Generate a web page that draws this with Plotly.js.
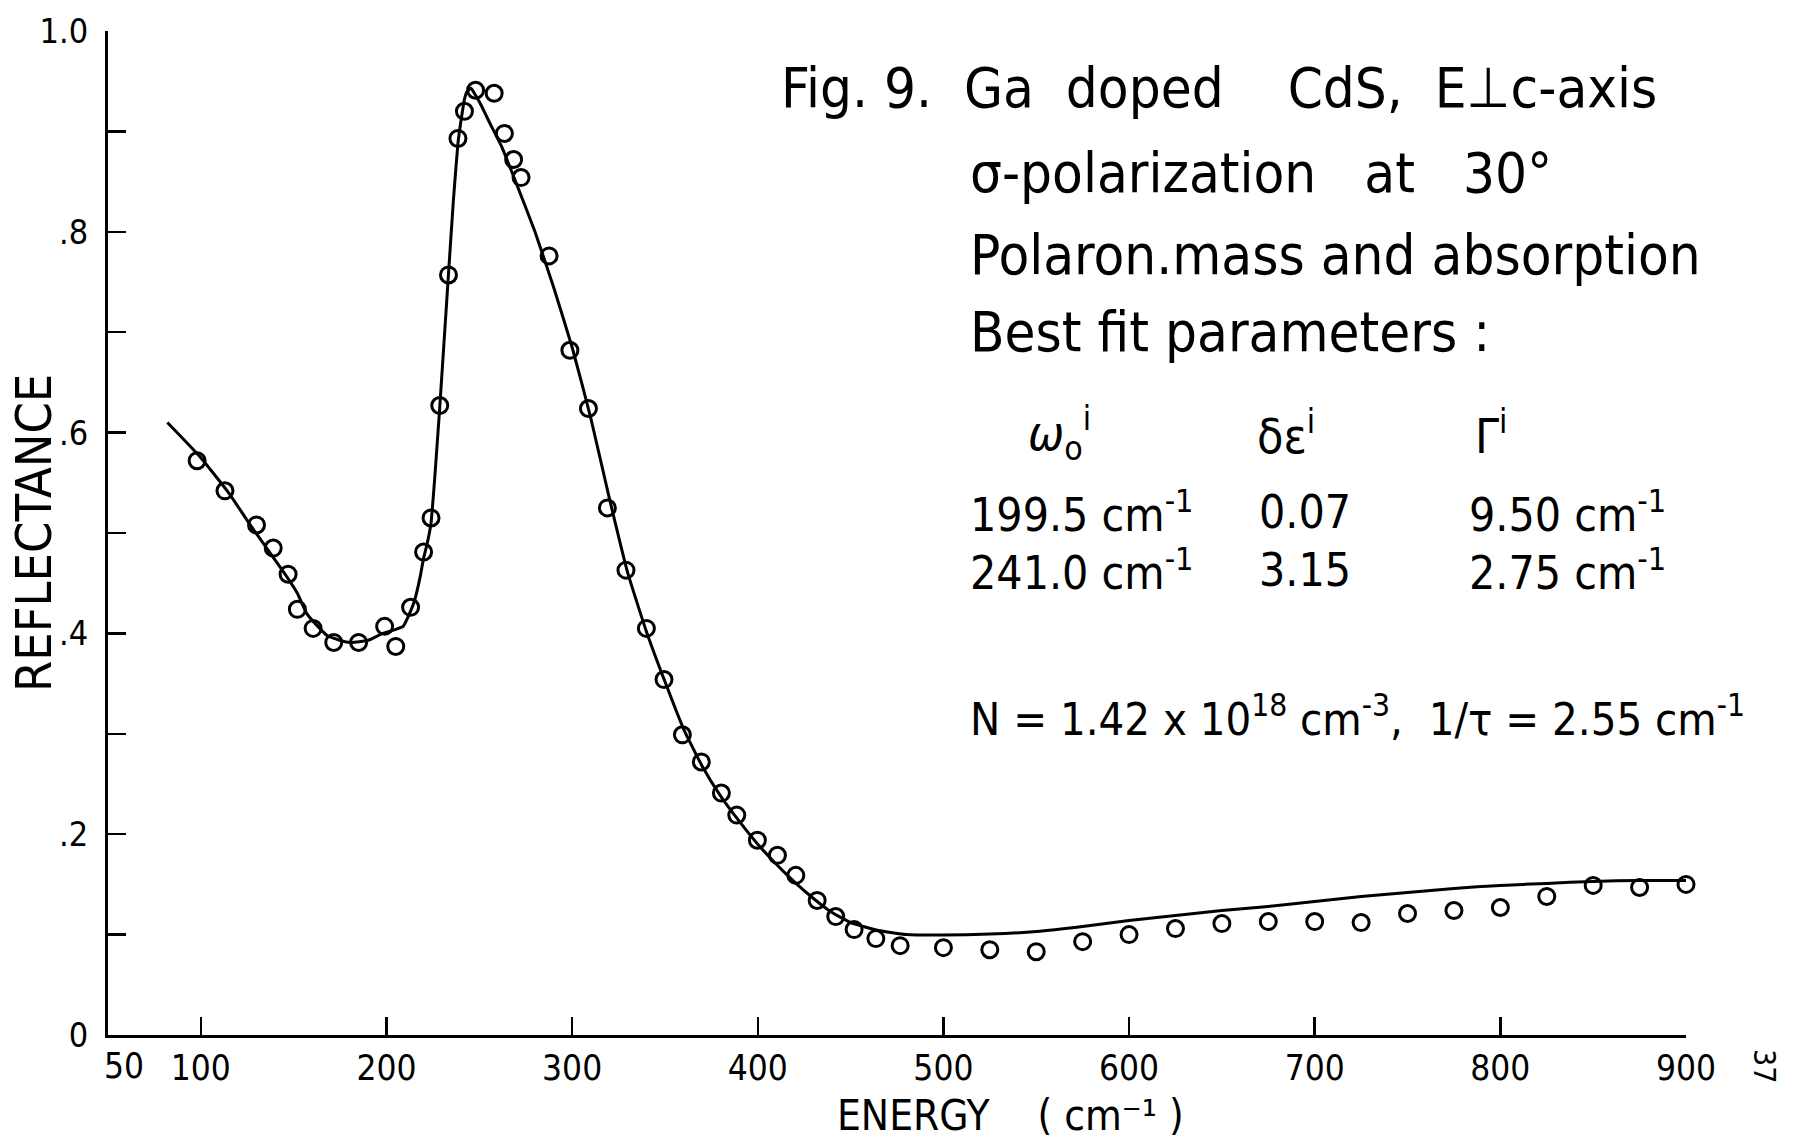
<!DOCTYPE html>
<html>
<head>
<meta charset="utf-8">
<script src="https://cdn.plot.ly/plotly-3.0.1.min.js"></script>
<style>html,body{margin:0;padding:0;background:#fff;}#chart{width:1797px;height:1141px;}</style>
</head>
<body>
<div id="chart"></div>
<script>
// Measured reflectance (open circles)
const dataEnergy = [98, 113, 130, 139, 147, 152, 160.5, 171.6, 185, 199, 205, 213, 220, 224, 228.7, 233.4, 238.5, 242, 248, 258, 263.5, 268.5, 272.5, 287.6, 298.8, 308.8, 319, 329, 340, 349.5, 359.4, 369.6, 380.4, 388.7, 399.8, 410.6, 420.5, 432, 442, 451.9, 463.6, 476.7, 500, 525, 550, 575, 600, 625, 650, 675, 700, 725, 750, 775, 800, 825, 850, 875, 900];
const dataReflectance = [0.572, 0.542, 0.508, 0.485, 0.459, 0.424, 0.405, 0.391, 0.391, 0.407, 0.387, 0.426, 0.481, 0.515, 0.627, 0.757, 0.893, 0.92, 0.941, 0.938, 0.898, 0.872, 0.854, 0.776, 0.682, 0.624, 0.525, 0.463, 0.405, 0.354, 0.299, 0.272, 0.241, 0.219, 0.194, 0.179, 0.159, 0.134, 0.118, 0.105, 0.096, 0.089, 0.087, 0.085, 0.083, 0.093, 0.1, 0.106, 0.111, 0.113, 0.113, 0.112, 0.121, 0.124, 0.127, 0.138, 0.149, 0.147, 0.150];

// Best-fit curve (solid line)
const fitEnergy = [82, 100, 115, 127, 137, 145, 152, 157, 163, 168, 175, 181, 190, 198, 205, 209, 212, 215, 218, 220, 222, 224, 226, 228.5, 231, 233.3, 236, 238.5, 240.5, 242, 243.5, 245.5, 248, 251, 256, 262, 270, 280, 290, 300, 310, 320, 330, 340, 350, 360, 370, 380, 390, 400, 410, 420, 430, 440, 450, 465, 480, 500, 525, 550, 575, 600, 625, 650, 675, 700, 725, 750, 775, 800, 825, 850, 875, 900];
const fitReflectance = [0.61, 0.575, 0.54, 0.507, 0.481, 0.46, 0.44, 0.42, 0.407, 0.398, 0.393, 0.391, 0.393, 0.4, 0.404, 0.407, 0.418, 0.432, 0.455, 0.475, 0.49, 0.51, 0.555, 0.62, 0.69, 0.755, 0.83, 0.888, 0.915, 0.932, 0.94, 0.943, 0.936, 0.926, 0.907, 0.885, 0.848, 0.8, 0.745, 0.685, 0.615, 0.535, 0.46, 0.402, 0.352, 0.305, 0.268, 0.238, 0.213, 0.19, 0.17, 0.152, 0.136, 0.122, 0.112, 0.104, 0.1, 0.0995, 0.1005, 0.103, 0.108, 0.114, 0.119, 0.124, 0.128, 0.133, 0.138, 0.142, 0.146, 0.149, 0.151, 0.153, 0.154, 0.154];

// Tick labels (the axis-origin label "50" is drawn just right of the corner)
const xTickVals = [50, 100, 200, 300, 400, 500, 600, 700, 800, 900];
const xTickText = ['', '100', '200', '300', '400', '500', '600', '700', '800', '900'];
const xOriginLabel = '50';
const yTickVals = [0, 0.1, 0.2, 0.3, 0.4, 0.5, 0.6, 0.7, 0.8, 0.9, 1.0];
const yTickText = ['0', '', '.2', '', '.4', '', '.6', '', '.8', '', '1.0'];

// Annotation text
const titleLines = [
  'Fig. 9.  Ga  doped    CdS,  E\u22a5c-axis',
  '\u03c3-polarization   at   30\u00b0',
  'Polaron.mass and absorption',
  'Best fit parameters :'
];
const paramHeaders = ['<i>\u03c9</i><sub>o</sub><sup>i</sup>', '\u03b4\u03b5<sup>i</sup>', '\u0393<sup>i</sup>'];
const paramRow1 = ['199.5 cm<sup>-1</sup>', '0.07', '9.50 cm<sup>-1</sup>'];
const paramRow2 = ['241.0 cm<sup>-1</sup>', '3.15', '2.75 cm<sup>-1</sup>'];
const carrierLine = 'N = 1.42 x 10<sup>18</sup> cm<sup>-3</sup>,  1/\u03c4 = 2.55 cm<sup>-1</sup>';
const xTitle = 'ENERGY    ( cm\u207b\u00b9 )';
const yTitle = 'REFLECTANCE';

const FONT = '"DejaVu Sans Condensed", "DejaVu Sans", sans-serif';

// plot area in pixels: left 108, right 1686, top 31, bottom 1035
const PL = 108, PR = 1686, PT = 31, PB = 1035;
const px = x => (x - PL) / (PR - PL);
const py = y => (PB - y) / (PB - PT);

const ann = [];
function addText(text, x, y, size, opts) {
  ann.push(Object.assign({
    text: text, xref: 'paper', yref: 'paper', x: px(x), y: py(y),
    xanchor: 'left', yanchor: 'middle', showarrow: false,
    font: {family: FONT, size: size, color: '#000'}
  }, opts || {}));
}
addText(titleLines[0], 779, 88, 56);
addText(titleLines[1], 968, 172, 56);
addText(titleLines[2], 968, 254, 56);
addText(titleLines[3], 968, 332, 56);
const colX = [968, 1257, 1467];
const hdrX = [1026, 1255, 1473];
paramHeaders.forEach((t, i) => addText(t, hdrX[i], 433, 48));
paramRow1.forEach((t, i) => addText(t, colX[i], 512, 46));
paramRow2.forEach((t, i) => addText(t, colX[i], 570, 46));
addText(carrierLine, 968, 716, 45);
addText(xOriginLabel, 124, 1066, 35, {xanchor: 'center'});
addText(xTitle, 1011, 1115, 42, {xanchor: 'center'});
addText(yTitle, 34, 533, 50, {xanchor: 'center', textangle: -90});
addText('37', 1765, 1066, 30, {xanchor: 'center', textangle: 90});

const traces = [
  {
    x: fitEnergy, y: fitReflectance, type: 'scatter', mode: 'lines',
    line: {color: '#000', width: 3, shape: 'spline', smoothing: 0.4},
    hoverinfo: 'skip', showlegend: false, cliponaxis: false
  },
  {
    x: dataEnergy, y: dataReflectance, type: 'scatter', mode: 'markers',
    marker: {symbol: 'circle-open', size: 16, color: '#000', line: {width: 3, color: '#000'}},
    showlegend: false, cliponaxis: false
  }
];

const layout = {
  width: 1797, height: 1141, autosize: false,
  margin: {l: PL, r: 1797 - PR, t: PT, b: 1141 - PB, pad: 0},
  paper_bgcolor: '#fff', plot_bgcolor: '#fff',
  font: {family: FONT, color: '#000'},
  showlegend: false,
  xaxis: {
    range: [50, 900], showgrid: false, zeroline: false,
    showline: true, linecolor: '#000', linewidth: 3,
    ticks: 'inside', ticklen: 18, tickwidth: 2.5, tickcolor: '#000',
    tickvals: xTickVals, ticktext: xTickText,
    tickfont: {family: FONT, size: 35, color: '#000'},
    ticklabelstandoff: 0
  },
  yaxis: {
    range: [0, 1.0], showgrid: false, zeroline: false,
    showline: true, linecolor: '#000', linewidth: 3,
    ticks: 'inside', ticklen: 18, tickwidth: 2.5, tickcolor: '#000',
    tickvals: yTickVals, ticktext: yTickText,
    tickfont: {family: FONT, size: 34, color: '#000'},
    ticklabelstandoff: 10
  },
  annotations: ann
};

Plotly.newPlot('chart', traces, layout, {staticPlot: true, displayModeBar: false});
</script>
</body>
</html>
